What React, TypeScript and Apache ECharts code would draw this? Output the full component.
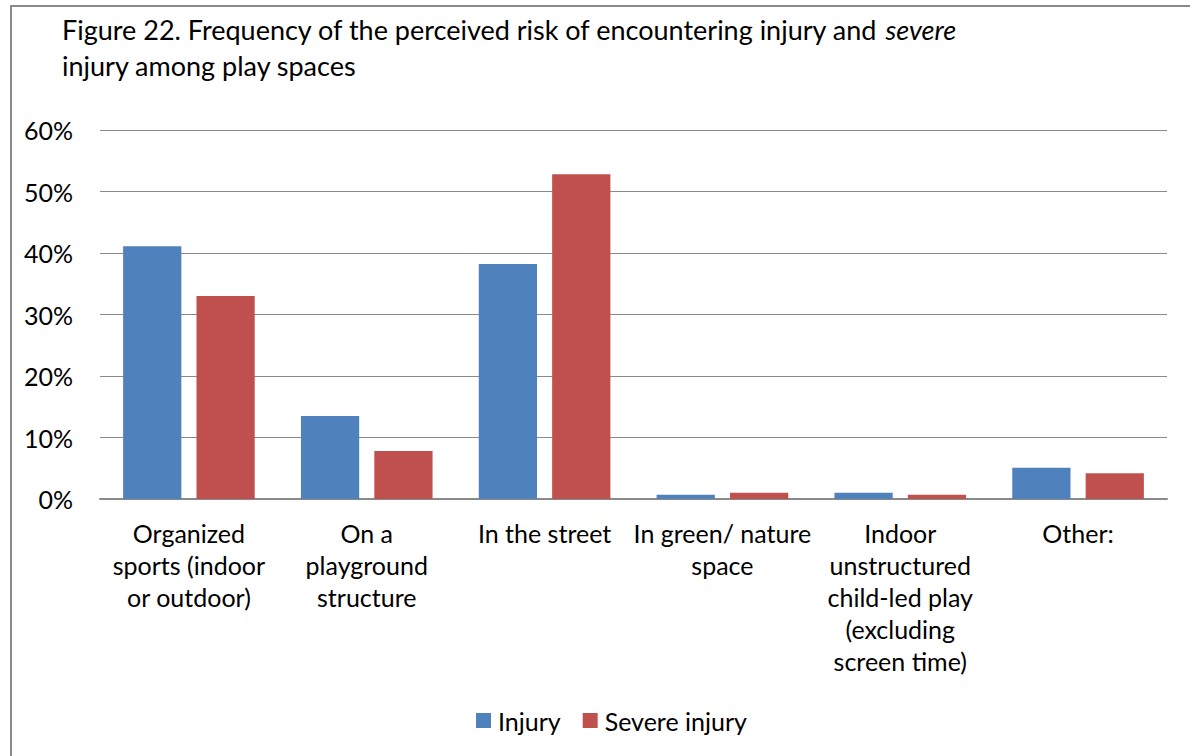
import React, { useEffect, useRef } from "react";
import * as echarts from "echarts";

const categories = [
  "Organized\nsports (indoor\nor outdoor)",
  "On a\nplayground\nstructure",
  "In the street",
  "In green/ nature\nspace",
  "Indoor\nunstructured\nchild-led play\n(excluding\nscreen time)",
  "Other:",
];
const injury = [41.1, 13.5, 38.2, 0.7, 1.0, 5.1];
const severeInjury = [33.0, 7.8, 52.8, 1.0, 0.7, 4.2];
const seriesNames = ["Injury", "Severe injury"];

const FONT = "Lato, 'Open Sans', sans-serif";

export default function App() {
  const ref = useRef<HTMLDivElement>(null);
  useEffect(() => {
    if (!ref.current) return;
    const chart = echarts.init(ref.current, undefined, { renderer: "svg" });
    chart.setOption({
      animation: false,
      backgroundColor: "#ffffff",
      textStyle: { fontFamily: FONT, color: "#000" },
      title: {
        left: 57,
        top: 6,
        text:
          "{n|Figure 22. Frequency of the perceived risk of encountering injury and }{i|severe}\n{n|injury among play spaces}",
        textStyle: {
          fontWeight: "normal",
          rich: {
            n: { fontFamily: FONT, fontSize: 27, fontWeight: "normal", color: "#000", lineHeight: 36 },
            i: { fontFamily: FONT, fontSize: 27, fontWeight: "normal", color: "#000", fontStyle: "italic", lineHeight: 36 },
          },
        },
      },
      graphic: [
        {
          type: "rect",
          shape: { x: 11, y: 6, width: 1400, height: 900 },
          style: { fill: "none", stroke: "#8a8a8a", lineWidth: 2 },
          silent: true,
        },
      ],
      legend: {
        left: 471,
        top: 703,
        icon: "rect",
        itemWidth: 15,
        itemHeight: 15,
        itemGap: 22,
        textStyle: { fontFamily: FONT, fontSize: 25, color: "#000", padding: [0, 0, 0, 2] },
        data: seriesNames,
      },
      grid: { left: 100, right: 23, top: 130, bottom: 257, containLabel: false },
      xAxis: {
        type: "category",
        data: categories,
        axisLine: { lineStyle: { color: "#8a8a8a", width: 2 } },
        axisTick: { show: false },
        axisLabel: {
          interval: 0,
          fontFamily: FONT,
          fontSize: 25,
          lineHeight: 32,
          color: "#000",
          margin: 18,
        },
      },
      yAxis: {
        type: "value",
        min: 0,
        max: 60,
        interval: 10,
        axisLine: { show: false },
        axisTick: { show: false },
        splitLine: { lineStyle: { color: "#8a8a8a", width: 1 } },
        axisLabel: {
          formatter: "{value}%",
          fontFamily: FONT,
          fontSize: 25,
          color: "#000",
          margin: 27,
        },
      },
      series: [
        {
          name: seriesNames[0],
          type: "bar",
          data: injury,
          itemStyle: { color: "#4F81BD" },
          barGap: "26%",
          barCategoryGap: "26%",
        },
        {
          name: seriesNames[1],
          type: "bar",
          data: severeInjury,
          itemStyle: { color: "#C0504D" },
        },
      ],
    });
    return () => chart.dispose();
  }, []);
  return (
    <div
      ref={ref}
      style={{ position: "absolute", left: 0, top: 0, width: 1190, height: 756 }}
    />
  );
}
